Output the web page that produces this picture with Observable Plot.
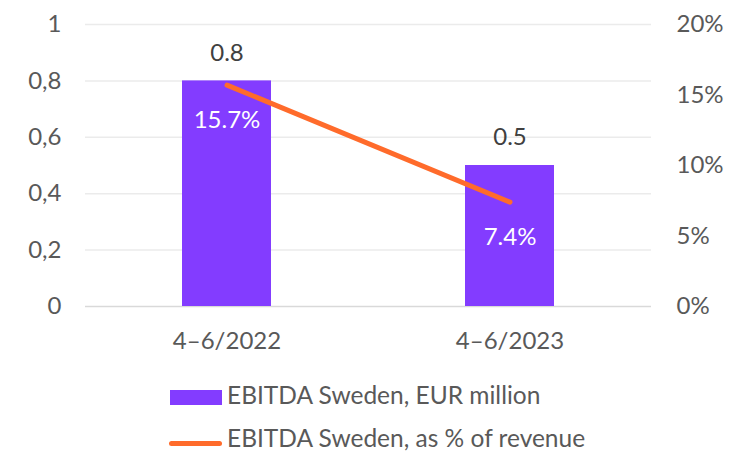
<!DOCTYPE html>
<html><head><meta charset="utf-8">
<script src="https://cdn.jsdelivr.net/npm/d3@7"></script>
<script src="https://cdn.jsdelivr.net/npm/@observablehq/plot@0.6"></script>
<style>
body{margin:0;background:#fff;font-family:Lato,"Open Sans",sans-serif;}
#wrap{position:relative;width:740px;height:453px;overflow:hidden;}
.lg{position:absolute;left:227px;font-size:24.5px;color:#595959;line-height:24px;white-space:nowrap;}
</style>
</head><body>
<div id="wrap"></div>
<script>
const periods = ["4–6/2022", "4–6/2023"];
const ebitda = [0.8, 0.5];
const ebitdaPct = [15.7, 7.4];
const leftTicks = [0, 0.2, 0.4, 0.6, 0.8, 1];
const rightTicks = [0, 5, 10, 15, 20];
const seriesNames = ["EBITDA Sweden, EUR million", "EBITDA Sweden, as % of revenue"];
const colors = ["#833CFF", "#FF6B2B"];
const pctMax = 20;

const data = periods.map((p, i) => ({period: p, ebitda: ebitda[i], pct: ebitdaPct[i]}));
const font = 'Lato,"Open Sans",sans-serif';
const fs = 24;

const chart = Plot.plot({
  width: 740, height: 360,
  marginLeft: 85, marginRight: 89, marginTop: 24, marginBottom: 54,
  style: {fontFamily: font, fontSize: fs + "px", background: "white", color: "#595959"},
  x: {domain: periods, paddingInner: 0.685, paddingOuter: 0.3425, label: null},
  y: {domain: [0, 1], label: null},
  marks: [
    Plot.gridY(leftTicks.filter(d => d > 0), {stroke: "#ebebeb", strokeOpacity: 1, strokeWidth: 1.5}),
    Plot.ruleY([0], {stroke: "#d9d9d9", strokeWidth: 1.5}),
    Plot.barY(data, {x: "period", y: "ebitda", fill: colors[0]}),
    Plot.lineY(data, {x: "period", y: d => d.pct / pctMax, stroke: colors[1], strokeWidth: 5, strokeLinecap: "round"}),
    Plot.text(data, {x: "period", y: "ebitda", text: d => d.ebitda.toFixed(1), dy: -28, fill: "#404040", fontSize: fs}),
    Plot.text(data, {x: "period", y: d => d.pct / pctMax, text: d => d.pct.toFixed(1) + "%", dy: 35, fill: "white", fontSize: fs}),
    Plot.axisY(leftTicks, {anchor: "left", tickSize: 0, tickPadding: 24, label: null, tickFormat: d => String(d).replace(".", ","), fontSize: fs, fill: "#595959"}),
    Plot.axisY(rightTicks.map(v => v / pctMax), {anchor: "right", tickSize: 0, tickPadding: 25, label: null, tickFormat: d => Math.round(d * pctMax) + "%", fontSize: fs, fill: "#595959"}),
    Plot.axisX({tickSize: 0, tickPadding: 25, label: null, fontSize: fs, fill: "#595959"})
  ]
});
chart.style.position = "absolute";
chart.style.left = "0px";
chart.style.top = "0px";
const wrap = document.getElementById("wrap");
wrap.appendChild(chart);

function addLegend(i, top, swatchStyle) {
  const sw = document.createElement("div");
  sw.style.cssText = "position:absolute;" + swatchStyle + "background:" + colors[i] + ";";
  wrap.appendChild(sw);
  const t = document.createElement("div");
  t.className = "lg";
  t.style.top = top + "px";
  t.textContent = seriesNames[i];
  wrap.appendChild(t);
}
addLegend(0, 383, "left:170px;top:390px;width:52px;height:15px;");
addLegend(1, 426, "left:169px;top:441px;width:53px;height:5px;border-radius:3px;");
</script>
</body></html>
